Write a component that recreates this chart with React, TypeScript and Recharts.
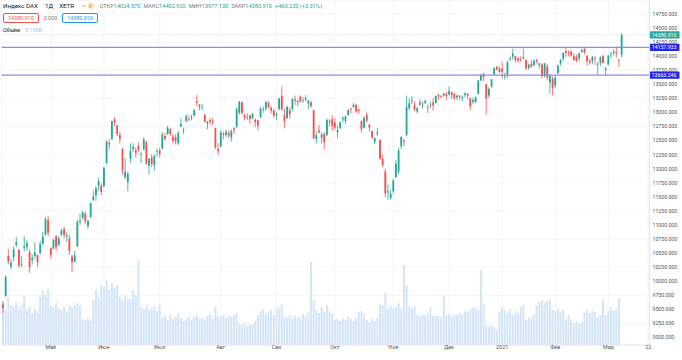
import React from 'react';
import { ComposedChart, Bar, XAxis, YAxis, CartesianGrid, ReferenceLine } from 'recharts';

// DAX daily, 3 Apr 2020 .. 8 Mar 2021 (one row per month)
const openPrices = [
  9585, 9740, 10447, 10260, 10430, 10647, 10563, 10300, 10597, 10610, 10520, 10380, 10450, 10470, 10500, 10670, 10830, 11085,
  10590, 10580, 10800, 10650, 10830, 10930, 10800, 10760, 10440, 10350, 10620, 11050, 11130, 11200, 10980, 11140, 11450, 11530, 11700, 11700,
  11690, 12100, 12460, 12530, 12880, 12770, 12600, 12350, 11850, 11760, 12170, 12350, 12330, 12400, 12250, 12340, 12480, 12050, 12200, 12060, 12300,
  12320, 12360, 12580, 12620, 12700, 12570, 12560, 12450, 12750, 12690, 12850, 12880, 12900, 12950, 13200, 13140, 13100, 12960, 12800, 12870, 12850, 12720, 12350,
  12400, 12620, 12600, 12640, 12560, 12720, 12750, 13000, 13180, 12950, 12910, 12950, 12900, 12870, 12860, 12920, 13050, 13070, 13170, 13080, 13030,
  12950, 13060, 13300, 12950, 12900, 13040, 13060, 13230, 13180, 13280, 13210, 13230, 13160, 13180, 13040, 12530, 12680, 12550, 12620, 12600, 12850, 12880,
  12820, 12650, 12720, 12880, 12850, 12960, 13070, 13100, 13130, 13050, 12850, 12730, 12960, 12780, 12670, 12480, 12620, 12510, 12180, 11950, 11580, 11480,
  11600, 11850, 11950, 12400, 12500, 12600, 13080, 13200, 13140, 13020, 13180, 13120, 13170, 13100, 13120, 13180, 13170, 13310, 13290, 13300, 13330,
  13320, 13360, 13330, 13270, 13290, 13260, 13310, 13330, 13250, 13190, 13180, 13330, 13570, 13680, 13500, 13300, 13460, 13680, 13810, 13780,
  13780, 13640, 13680, 13960, 13990, 14000, 13960, 13950, 13960, 13930, 13790, 13860, 13840, 13930, 13840, 13850, 13650, 13820, 13530, 13600,
  13480, 13700, 13870, 13960, 14090, 14070, 14080, 14000, 13990, 13960, 14080, 14120, 14010, 13920, 13910, 13960, 13860, 13880, 14000, 13760,
  13850, 14030, 14060, 14070, 13930, 14024.57,
];
const highPrices = [
  9650, 10109, 10573, 10393, 10619, 10787, 10563, 10443, 10800, 10729, 10560, 10480, 10695, 10470, 10715, 10880, 11140, 11158,
  10600, 10760, 10820, 10800, 10930, 10975, 10870, 10820, 10470, 10540, 11100, 11210, 11250, 11240, 11090, 11400, 11610, 11690, 11840, 11740,
  12030, 12500, 12530, 12850, 12913, 12780, 12660, 12370, 12190, 11950, 12450, 12460, 12380, 12470, 12300, 12560, 12500, 12190, 12260, 12250, 12360,
  12370, 12650, 12640, 12760, 12720, 12620, 12610, 12670, 12900, 12730, 12970, 12950, 12960, 13060, 13313, 13150, 13150, 12970, 12850, 12890, 12900, 12730, 12450,
  12680, 12660, 12700, 12680, 12700, 12740, 13090, 13200, 13200, 12980, 12990, 12960, 12990, 12900, 12870, 13100, 13110, 13200, 13200, 13120, 13060,
  13000, 13260, 13460, 13070, 13120, 13090, 13260, 13300, 13230, 13300, 13270, 13310, 13220, 13210, 13050, 12660, 12780, 12650, 12650, 12890, 12880, 12950,
  12900, 12760, 12840, 12930, 12950, 13060, 13080, 13170, 13150, 13070, 12860, 12930, 13000, 12800, 12680, 12560, 12720, 12520, 12250, 12000, 11720, 11620,
  11820, 12160, 12370, 12570, 12530, 13300, 13250, 13290, 13200, 13100, 13240, 13190, 13230, 13140, 13190, 13250, 13300, 13330, 13310, 13350, 13370,
  13460, 13370, 13350, 13310, 13310, 13300, 13360, 13350, 13260, 13260, 13290, 13580, 13690, 13710, 13510, 13450, 13600, 13800, 13830, 13820,
  13900, 13710, 13920, 14000, 14131, 14010, 13990, 14000, 14130, 13950, 13870, 13930, 13940, 13950, 13880, 13880, 13880, 13870, 13680, 13640,
  13650, 13850, 13950, 14070, 14170, 14100, 14110, 14050, 14030, 14060, 14130, 14170, 14020, 13960, 14000, 14000, 13900, 14000, 14030, 13800,
  14020, 14080, 14120, 14170, 13950, 14402.92,
];
const lowPrices = [
  9440, 9725, 10300, 10220, 10355, 10604, 10238, 10251, 10530, 10540, 10150, 10300, 10390, 10250, 10480, 10640, 10810, 10800,
  10400, 10570, 10540, 10620, 10800, 10760, 10700, 10470, 10160, 10330, 10610, 11000, 11090, 11010, 10930, 11130, 11430, 11430, 11610, 11530,
  11670, 12090, 12340, 12510, 12760, 12580, 12450, 11900, 11810, 11600, 12100, 12300, 12200, 12300, 12100, 12330, 12070, 11900, 12030, 11970, 12220,
  12200, 12340, 12500, 12600, 12580, 12450, 12430, 12420, 12740, 12620, 12830, 12840, 12860, 12930, 13110, 13040, 13050, 12820, 12700, 12780, 12770, 12350, 12250,
  12380, 12520, 12560, 12540, 12480, 12620, 12720, 12960, 12960, 12860, 12870, 12800, 12880, 12740, 12680, 12900, 12990, 13030, 13070, 12980, 12900,
  12860, 13040, 13030, 12720, 12880, 12890, 13020, 13130, 13110, 13180, 13170, 13200, 13060, 13080, 12530, 12450, 12630, 12450, 12340, 12580, 12750, 12680,
  12700, 12550, 12700, 12830, 12800, 12940, 12980, 13080, 12990, 12980, 12650, 12720, 12820, 12660, 12530, 12440, 12580, 12160, 12030, 11500, 11450, 11450,
  11560, 11840, 11900, 12350, 12400, 12580, 13040, 13150, 13030, 12980, 13120, 13070, 13150, 12990, 13080, 13030, 13160, 13230, 13250, 13270, 13220,
  13300, 13240, 13220, 13220, 13220, 13200, 13270, 13240, 13040, 13150, 13170, 13320, 13560, 13560, 12960, 13260, 13440, 13660, 13750, 13700,
  13600, 13580, 13610, 13910, 13940, 13890, 13880, 13900, 13950, 13750, 13760, 13790, 13830, 13870, 13780, 13610, 13620, 13570, 13340, 13310,
  13440, 13680, 13830, 13910, 13990, 14000, 13990, 13920, 13890, 13910, 14060, 14030, 13830, 13850, 13860, 13840, 13680, 13830, 13880, 13660,
  13840, 13960, 14020, 13980, 13810, 13977.13,
];
const closePrices = [
  9525, 10075, 10356, 10332, 10565, 10696, 10280, 10301, 10626, 10676, 10250, 10416, 10514, 10336, 10659, 10796, 11107, 10862,
  10467, 10730, 10606, 10760, 10904, 10825, 10820, 10542, 10337, 10465, 11058, 11075, 11223, 11065, 11074, 11391, 11505, 11657, 11781, 11587,
  12021, 12487, 12431, 12848, 12820, 12617, 12530, 11970, 11949, 11911, 12315, 12382, 12281, 12331, 12262, 12523, 12093, 12178, 12089, 12232, 12311,
  12260, 12608, 12528, 12733, 12616, 12495, 12489, 12633, 12800, 12697, 12931, 12874, 12920, 13046, 13171, 13104, 13103, 12838, 12839, 12836, 12823, 12379, 12313,
  12647, 12600, 12660, 12592, 12674, 12687, 13058, 13193, 12994, 12901, 12920, 12882, 12977, 12830, 12765, 13067, 13061, 13190, 13096, 13033, 12945,
  12974, 13243, 13057, 12842, 13100, 12968, 13237, 13209, 13203, 13194, 13218, 13255, 13208, 13116, 12542, 12594, 12643, 12606, 12469, 12870, 12826, 12761,
  12731, 12689, 12828, 12906, 12928, 13042, 13051, 13138, 13019, 13028, 12703, 12909, 12854, 12736, 12558, 12543, 12646, 12178, 12064, 11561, 11598, 11556,
  11789, 12089, 12324, 12568, 12480, 13096, 13163, 13217, 13052, 13077, 13139, 13133, 13202, 13087, 13137, 13127, 13292, 13290, 13286, 13336, 13291,
  13382, 13313, 13252, 13299, 13271, 13278, 13340, 13296, 13114, 13223, 13263, 13565, 13667, 13630, 13246, 13418, 13587, 13790, 13761, 13719,
  13726, 13651, 13892, 13968, 14050, 13937, 13925, 13940, 13988, 13787, 13848, 13815, 13921, 13906, 13874, 13643, 13871, 13620, 13665, 13433,
  13622, 13835, 13933, 14060, 14057, 14060, 14012, 13932, 13921, 14050, 14109, 14064, 13909, 13887, 13993, 13950, 13865, 13976, 13879, 13786,
  14012, 14039, 14080, 14056, 13921, 14380.91,
];
// millions
const volumes = [
  86, 70, 94, 80, 76, 84, 72, 80, 98, 70, 76, 64, 72, 68, 96, 110, 100, 112,
  80, 76, 84, 72, 70, 76, 66, 80, 76, 80, 84, 80, 52, 50, 54, 48, 90, 110, 96, 120,
  116, 130, 110, 124, 114, 120, 96, 90, 100, 94, 92, 110, 100, 170, 76, 72, 80, 70, 74, 76, 68,
  80, 54, 58, 50, 60, 52, 56, 62, 54, 48, 52, 58, 50, 56, 60, 52, 54, 50, 58, 62, 52, 76, 58,
  56, 60, 54, 58, 56, 60, 64, 42, 40, 44, 38, 42, 40, 48, 60, 68, 72, 62, 66, 70,
  60, 74, 72, 80, 56, 54, 60, 52, 58, 56, 54, 62, 58, 66, 166, 90, 70, 64, 76, 66, 80, 68,
  62, 50, 52, 48, 54, 50, 56, 52, 48, 54, 66, 68, 62, 50, 46, 52, 48, 54, 80, 80, 104, 74,
  78, 72, 76, 84, 74, 160, 120, 76, 74, 78, 60, 58, 62, 60, 64, 76, 58, 60, 58, 56, 100,
  60, 62, 58, 60, 60, 64, 60, 68, 66, 72, 74, 76, 70, 150, 80, 38, 36, 40, 36, 30,
  66, 76, 70, 64, 72, 60, 68, 64, 76, 80, 50, 56, 52, 60, 80, 86, 90, 84, 88, 90,
  70, 68, 72, 66, 70, 50, 60, 50, 44, 48, 42, 46, 66, 70, 64, 68, 66, 56, 60, 90,
  60, 68, 76, 70, 72, 94,
];

const monthTicks = [18, 38, 59, 82, 103, 125, 147, 168, 188, 208, 228, 243];
const monthLabels = ['Май', 'Июн', 'Июл', 'Авг', 'Сен', 'Окт', 'Ноя', 'Дек', '2021', 'Фев', 'Мар', '22'];
const priceTicks = [
  9000, 9250, 9500, 9750, 10000, 10250, 10500, 10750, 11000, 11250, 11500, 11750,
  12000, 12250, 12500, 12750, 13000, 13250, 13500, 13750, 14000, 14250, 14500, 14750,
];
const levels = [14157.933, 13663.246];
const lastClose = 14380.91;
const futureBars = 10;

const UP = '#26a69a';
const DOWN = '#ef5350';
const FONT = 'Roboto, sans-serif';

const data = [
  ...openPrices.map((o, i) => ({
    i,
    o,
    h: highPrices[i],
    l: lowPrices[i],
    c: closePrices[i],
    range: [lowPrices[i], highPrices[i]],
    vol: volumes[i],
  })),
  ...Array.from({ length: futureBars }, (_, k) => ({ i: openPrices.length + k, vol: 0 })),
];

const Candle = (props: any) => {
  const { x, y, width, height, payload } = props;
  if (!payload || payload.h == null || !isFinite(y) || !isFinite(height)) return <g />;
  const top = Math.min(y, y + height);
  const span = Math.abs(height);
  const toY = (v: number) => top + ((payload.h - v) / (payload.h - payload.l)) * span;
  const cx = x + width / 2;
  const color = payload.c >= payload.o ? UP : DOWN;
  const bt = toY(Math.max(payload.o, payload.c));
  const bb = toY(Math.min(payload.o, payload.c));
  const bw = 1.8;
  return (
    <g>
      <line x1={cx} x2={cx} y1={top} y2={top + span} stroke={color} strokeWidth={0.8} />
      <rect x={cx - bw / 2} y={bt} width={bw} height={Math.max(bb - bt, 0.7)} fill={color} />
    </g>
  );
};

const MonthTick = ({ x, y, payload }: any) => (
  <text x={x} y={y + 4} textAnchor="middle" fontSize={5.4} fill="#50535e" fontFamily={FONT}>
    {monthLabels[monthTicks.indexOf(payload.value)]}
  </text>
);

const PriceTag = ({ viewBox, text, fill }: any) => {
  if (!viewBox) return null;
  const x = viewBox.x + viewBox.width;
  const y = viewBox.y;
  return (
    <g>
      <rect x={x} y={y - 3.6} width={30} height={7.2} fill={fill} rx={0.8} />
      <text x={x + 2.2} y={y + 2} fill="#fff" fontSize={5.2} fontFamily={FONT}>{text}</text>
    </g>
  );
};

const Header = () => {
  const lbl = { color: '#787b86' };
  const val = { color: UP, marginRight: 3 };
  return (
    <div style={{ position: 'absolute', left: 3, top: 1, fontFamily: FONT, pointerEvents: 'none' }}>
      <div style={{ display: 'flex', alignItems: 'center', fontSize: 6.2, color: '#131722', whiteSpace: 'nowrap', height: 10 }}>
        <span>Индекс DAX</span>
        <span style={{ marginLeft: 7 }}>1Д</span>
        <span style={{ marginLeft: 6 }}>XETR</span>
        <span style={{ marginLeft: 8, color: '#9598a1' }}>=</span>
        <span style={{ marginLeft: 2, width: 6, height: 6, borderRadius: 3, background: '#ffe0b2', color: '#ff9800', fontSize: 4.5, display: 'inline-flex', alignItems: 'center', justifyContent: 'center' }}>D</span>
        <span style={{ marginLeft: 6, fontSize: 5.6 }}>
          <span style={lbl}>ОТКР</span><span style={val}>14024.570</span>
          <span style={lbl}>МАКС</span><span style={val}>14402.920</span>
          <span style={lbl}>МИН</span><span style={val}>13977.130</span>
          <span style={lbl}>ЗАКР</span><span style={val}>14380.910</span>
          <span style={val}>+460.220 (+3.31%)</span>
        </span>
      </div>
      <div style={{ display: 'flex', alignItems: 'center', fontSize: 5.4, marginTop: 2, whiteSpace: 'nowrap' }}>
        <span style={{ border: `1px solid ${DOWN}`, color: DOWN, borderRadius: 2, padding: '1px 4px', lineHeight: '6px' }}>14380.910</span>
        <span style={{ color: '#787b86', margin: '0 5px' }}>0.000</span>
        <span style={{ border: '1px solid #2196f3', color: '#2196f3', borderRadius: 2, padding: '1px 4px', lineHeight: '6px' }}>14380.910</span>
      </div>
      <div style={{ fontSize: 5.4, marginTop: 4, whiteSpace: 'nowrap' }}>
        <span style={{ color: '#131722' }}>Объём</span>
        <span style={{ color: '#90caf9', marginLeft: 5 }}>5.156B</span>
      </div>
    </div>
  );
};

export default function App() {
  return (
    <div style={{ position: 'fixed', left: 0, top: 0, width: 682, height: 360, background: '#fff' }}>
      <ComposedChart
        width={682}
        height={360}
        data={data}
        margin={{ top: 0, right: 0, left: 1.7, bottom: 0 }}
        barCategoryGap="12%"
      >
        <CartesianGrid xAxisId="x" yAxisId="p" stroke="#f0f2f6" strokeWidth={0.8} />
        <XAxis
          xAxisId="x"
          dataKey="i"
          ticks={monthTicks}
          interval={0}
          height={15}
          tickLine={false}
          tickSize={0}
          axisLine={{ stroke: '#e6e8ee' }}
          tick={<MonthTick />}
          tickMargin={0}
        />
        <XAxis xAxisId="v" dataKey="i" orientation="top" height={0} hide />
        <YAxis
          yAxisId="p"
          orientation="right"
          width={32.5}
          domain={[8868, 14999]}
          ticks={priceTicks}
          allowDataOverflow
          tickFormatter={(v: number) => v.toFixed(3)}
          tickLine={false}
          tickSize={0}
          axisLine={{ stroke: '#e6e8ee' }}
          tick={{ fontSize: 5.2, fill: '#50535e', fontFamily: FONT, textAnchor: 'start' }}
          tickMargin={3}
        />
        <YAxis yAxisId="v" hide domain={[0, 690]} />
        <Bar xAxisId="v" yAxisId="v" dataKey="vol" fill="#d3e5f8" isAnimationActive={false} />
        <Bar xAxisId="x" yAxisId="p" dataKey="range" shape={<Candle />} isAnimationActive={false} />
        <ReferenceLine
          xAxisId="x"
          yAxisId="p"
          y={lastClose}
          stroke={UP}
          strokeOpacity={0.5}
          strokeDasharray="1 2"
          strokeWidth={0.8}
          label={<PriceTag text={lastClose.toFixed(3)} fill={UP} />}
        />
        {levels.map((lv) => (
          <ReferenceLine
            key={lv}
            xAxisId="x"
            yAxisId="p"
            y={lv}
            stroke="#8a8af8"
            strokeWidth={1.4}
            label={<PriceTag text={lv.toFixed(3)} fill="#2424ee" />}
          />
        ))}
      </ComposedChart>
      <Header />
    </div>
  );
}
